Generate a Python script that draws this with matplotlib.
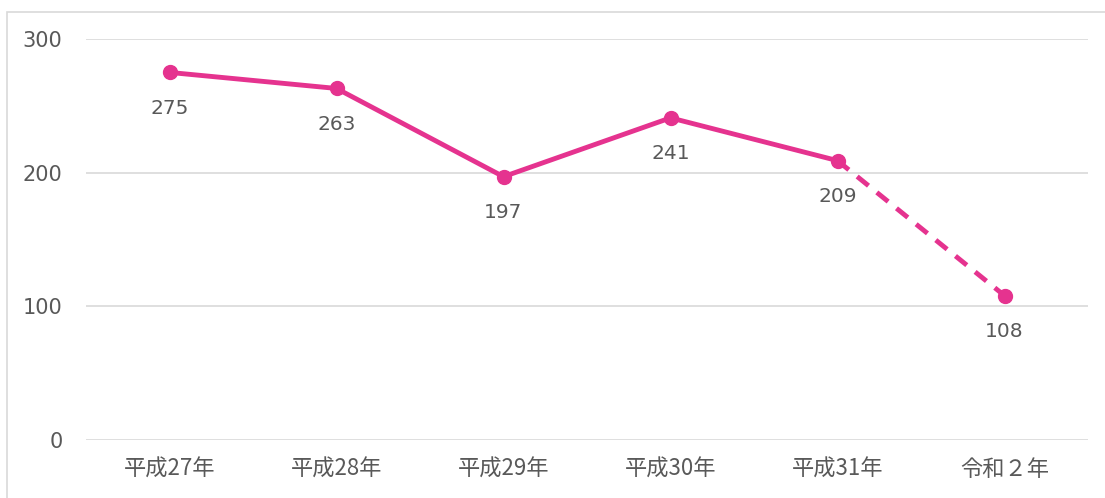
import matplotlib.pyplot as plt
from matplotlib.patches import Rectangle

plt.rcParams['font.family'] = ['DejaVu Sans', 'Noto Sans CJK JP']

categories = ["平成27年", "平成28年", "平成29年", "平成30年", "平成31年", "令和２年"]
values = [275, 263, 197, 241, 209, 108]
yticks = [0, 100, 200, 300]

pink = "#E5338F"
gray = "#595959"

fig = plt.figure(figsize=(11.05, 4.98), dpi=100)
ax = fig.add_axes([86 / 1105, 1 - 440 / 498, 1002 / 1105, 401 / 498])

x = list(range(len(categories)))
ax.plot(x[:5], values[:5], color=pink, lw=3.5, marker="o", ms=10,
        solid_capstyle="round", zorder=3)
ax.plot(x[4:], values[4:], color=pink, lw=3.5, ls=(0, (3, 2.2)),
        marker="o", ms=10, markevery=[1], zorder=3)

for xi, v in zip(x, values):
    ax.annotate(str(v), (xi, v), xytext=(0, -26), textcoords="offset points",
                ha="center", va="center", fontsize=14.5, color=gray)

ax.set_xlim(-0.5, 5.5)
ax.set_ylim(0, 300)
ax.set_yticks(yticks)
ax.set_xticks(x)
ax.set_xticklabels(categories, family=["Noto Sans CJK JP"], fontsize=16)
ax.tick_params(axis="both", length=0, colors=gray)
ax.tick_params(axis="y", pad=17, labelsize=15)
ax.tick_params(axis="x", pad=13)
ax.grid(axis="y", color="#D9D9D9", lw=1.2)
ax.set_axisbelow(True)
for s in ax.spines.values():
    s.set_visible(False)

fig.patches.append(Rectangle((7 / 1105, -0.1), 1.2, 1 - 12 / 498 + 0.1,
                             transform=fig.transFigure, fill=False,
                             edgecolor="#D9D9D9", lw=1.2))

fig.savefig("out.png", dpi=100)
